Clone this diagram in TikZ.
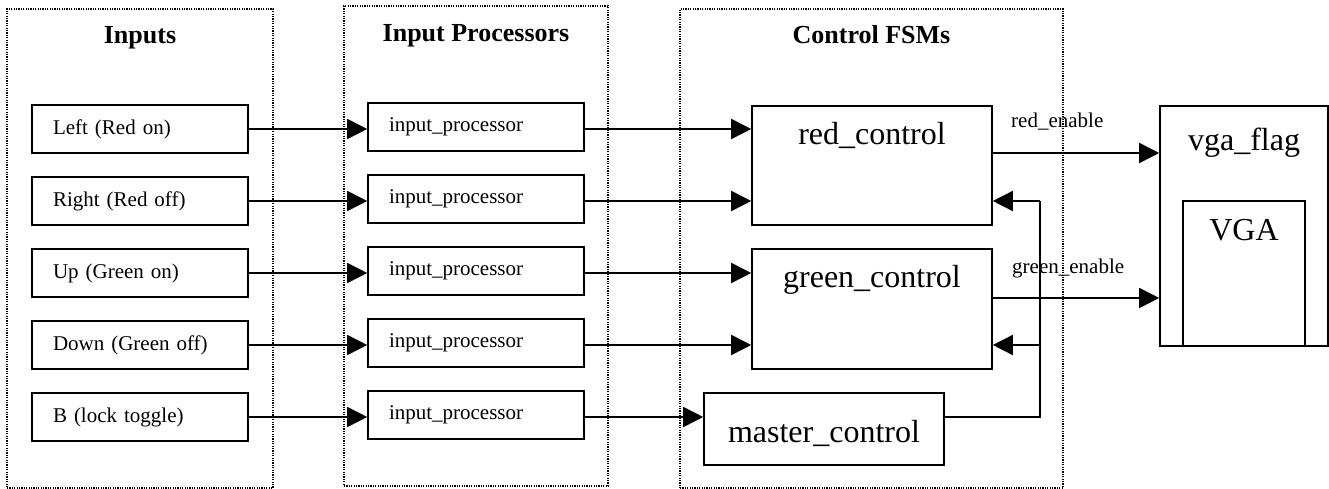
\documentclass[tikz,border=0pt]{standalone}
\usepackage{fontspec}
\setmainfont{Liberation Serif}
\usetikzlibrary{arrows.meta}

\begin{document}
\begin{tikzpicture}[x=1pt,y=-1pt,
  group/.style={draw, line width=1.2pt, dash pattern=on 1.2pt off 1.2pt, inner sep=0pt},
  grouptitle/.style={font=\fontsize{26}{30}\selectfont\bfseries, anchor=base, inner sep=0pt},
  smallbox/.style={draw, line width=1.6pt, minimum height=48pt, text width=174pt,
    inner xsep=21pt, inner ysep=0pt, align=left, font=\fontsize{21}{25}\selectfont},
  bigbox/.style={draw, line width=1.6pt, inner sep=0pt},
  bigtext/.style={font=\fontsize{32}{38}\selectfont, anchor=base, inner sep=0pt},
  lbl/.style={font=\fontsize{21}{25}\selectfont, anchor=base west, inner sep=0pt},
  wire/.style={line width=1.6pt},
  arr/.style={line width=1.6pt, -{Triangle[length=20pt,width=20pt]}},
]
\useasboundingbox (0,0) rectangle (1329,489);

% dotted group frames and their titles
\node[group, minimum width=266pt, minimum height=479pt] (gIn)   at (140,248.5) {};
\node[group, minimum width=264pt, minimum height=480pt] (gProc) at (476,246) {};
\node[group, minimum width=383pt, minimum height=479pt] (gFsm)  at (871.5,248.5) {};
\node[grouptitle] (tIn)   at (140,44)   {Inputs};
\node[grouptitle] (tProc) at (476,42)   {Input Processors};
\node[grouptitle] (tFsm)  at (871.5,44) {Control FSMs};

% input buttons
\node[smallbox] (i1) at (140,129) {Left (Red on)};
\node[smallbox] (i2) at (140,201) {Right (Red off)};
\node[smallbox] (i3) at (140,273) {Up (Green on)};
\node[smallbox] (i4) at (140,345) {Down (Green off)};
\node[smallbox] (i5) at (140,417) {B (lock toggle)};

% input processors
\node[smallbox] (p1) at (476,127) {input\_processor};
\node[smallbox] (p2) at (476,199) {input\_processor};
\node[smallbox] (p3) at (476,271) {input\_processor};
\node[smallbox] (p4) at (476,343) {input\_processor};
\node[smallbox] (p5) at (476,415) {input\_processor};

% control FSMs
\node[bigbox, minimum width=240pt, minimum height=119pt,
      label={[bigtext, yshift=-39pt]north:red\_control}] (red) at (872,165.5) {};
\node[bigbox, minimum width=240pt, minimum height=120pt,
      label={[bigtext, yshift=-39pt]north:green\_control}] (green) at (872,309) {};
\node[bigbox, minimum width=240pt, minimum height=72pt,
      label={[bigtext, yshift=-4pt]center:master\_control}] (master) at (824,429) {};

% display
\node[bigbox, minimum width=168pt, minimum height=240pt,
      label={[bigtext, yshift=-45pt]north:vga\_flag}] (vga) at (1244,226) {};
\node[bigbox, minimum width=122pt, minimum height=145pt,
      label={[bigtext, yshift=-40pt]north:VGA}] (vgain) at (1244,273.5) {};

% rows of the signal path
\coordinate (r1) at (0,129);
\coordinate (r2) at (0,201);
\coordinate (r3) at (0,273);
\coordinate (r4) at (0,345);
\coordinate (r5) at (0,417);

% buttons into processors
\foreach \k in {1,...,5}
  \draw[arr] (i\k.east |- r\k) -- (p\k.west |- r\k);

% processors into FSMs
\draw[arr] (p1.east |- r1) -- (red.west |- r1);
\draw[arr] (p2.east |- r2) -- (red.west |- r2);
\draw[arr] (p3.east |- r3) -- (green.west |- r3);
\draw[arr] (p4.east |- r4) -- (green.west |- r4);
\draw[arr] (p5.east |- r5) -- (master.west |- r5);

% master_control feeds back into both colour FSMs
\coordinate (fb)  at (1040,417);
\coordinate (fbR) at (1040,201);
\coordinate (fbG) at (1040,345);
\draw[wire] (master.east |- r5) -- (fb) -- (fbR);
\draw[arr] (fbR) -- (fbR -| red.east);
\draw[arr] (fbG) -- (fbG -| green.east);

% enable signals to the display
\coordinate (en1) at (0,153);
\coordinate (en2) at (0,298);
\draw[arr] (red.east |- en1) -- (vga.west |- en1);
\draw[arr] (green.east |- en2) -- (vga.west |- en2);
\node[lbl] (lRed)   at (1011,128) {red\_enable};
\node[lbl] (lGreen) at (1012,273) {green\_enable};
\end{tikzpicture}
\end{document}
